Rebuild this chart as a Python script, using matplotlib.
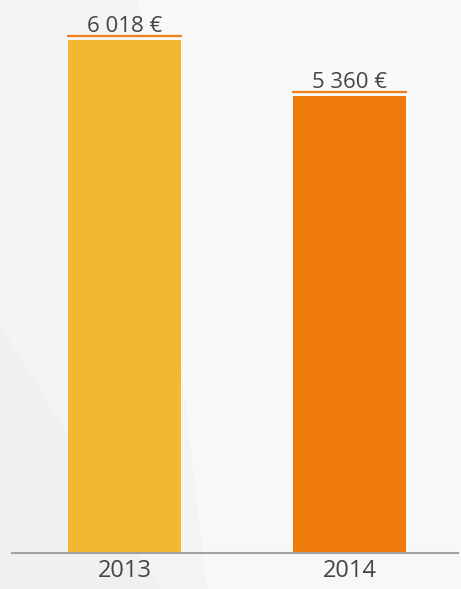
import numpy as np
import matplotlib.pyplot as plt
import matplotlib.transforms as mtransforms
from matplotlib.patches import Polygon

# ============================
# DATA
# ============================
years = ["2013", "2014"]
amounts = [6018, 5360]
labels = ["6 018 €", "5 360 €"]
bar_colors = ["#f2b830", "#ef7b0d"]

plt.rcParams["font.family"] = ["Open Sans", "DejaVu Sans"]

W, H = 461, 589
fig = plt.figure(figsize=(W / 100, H / 100), dpi=100)
fig.patch.set_facecolor("#f4f4f4")

# faint diagonal background shapes (figure fraction coords)
bg = fig.add_axes([0, 0, 1, 1], zorder=-10)
bg.set_xlim(0, 1)
bg.set_ylim(0, 1)
bg.axis("off")
bg.add_patch(Polygon([[0.30, 1.0], [1.0, 1.0], [1.0, 0.0], [0.45, 0.0]],
                     closed=True, facecolor="#f8f8f8", edgecolor="none"))
bg.add_patch(Polygon([[0.55, 1.0], [1.0, 1.0], [1.0, 0.55]],
                     closed=True, facecolor="#fafafa", edgecolor="none"))
bg.add_patch(Polygon([[0.0, 0.45], [0.0, 0.0], [0.35, 0.0]],
                     closed=True, facecolor="#f0f0f0", edgecolor="none"))

# ============================
# BARS
# ============================
ax = fig.add_axes([12 / W, 36 / H, 446 / W, 553 / H])
ax.patch.set_alpha(0)

x = np.arange(len(years))
ax.bar(x, amounts, width=0.502, color=bar_colors, zorder=2)

# orange cap line a few pixels above each bar
cap_tr = mtransforms.offset_copy(ax.transData, fig=fig, x=0, y=4, units="dots")
for xi, v in zip(x, amounts):
    ax.plot([xi - 0.255, xi + 0.255], [v, v], color="#f07c1a", lw=1.6,
            transform=cap_tr, solid_capstyle="butt", zorder=3)

for xi, v, lab in zip(x, amounts, labels):
    ax.annotate(lab, (xi, v), xytext=(0, 6), textcoords="offset points",
                ha="center", va="baseline", fontsize=16, color="#454545")

ax.set_xlim(-0.5, 1.482)
ax.set_ylim(0, 6018 * 553 / 513)
ax.set_xticks(x)
ax.set_xticklabels(years, fontsize=17, color="#454545")
ax.tick_params(axis="x", length=0, pad=4)
ax.set_yticks([])

for side in ["top", "right", "left"]:
    ax.spines[side].set_visible(False)
ax.spines["bottom"].set_color("#a0a0a8")
ax.spines["bottom"].set_linewidth(1.5)

fig.savefig("out.png", dpi=100, facecolor=fig.get_facecolor())
